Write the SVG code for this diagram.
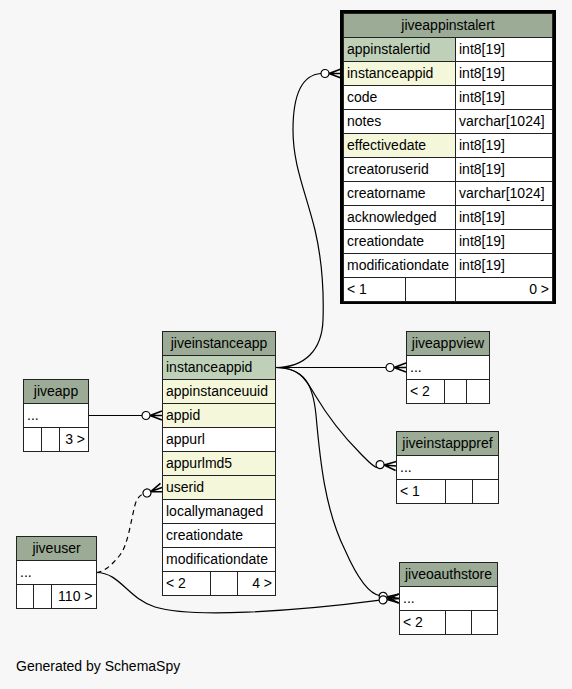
<svg xmlns="http://www.w3.org/2000/svg" xmlns:xlink="http://www.w3.org/1999/xlink" width="572" height="689" viewBox="0 0 572 689">
<style>
text{font-family:"Liberation Sans",Arial,Helvetica,sans-serif;font-size:14px;fill:#000}
.c{fill:#fff;stroke:#222;stroke-width:1}
.h{fill:#9bab96;stroke:#222;stroke-width:1}
.pk{fill:#bed1b8;stroke:#222;stroke-width:1}
.fk{fill:#f4f7da;stroke:#222;stroke-width:1}
.m{text-anchor:middle}
.r{text-anchor:end}
.e{fill:none;stroke:#000;stroke-width:1.2}
.d{stroke-dasharray:5,4}
</style>
<defs>
<g id="cf">
<path d="M-12,0 L0,-4.5 M-12,0 L0,0 M-12,0 L0,4.5" fill="none" stroke="#000" stroke-width="1.6"/>
<circle cx="-16" cy="0" r="4" fill="#fff" stroke="#000" stroke-width="1.2"/>
</g>
</defs>
<rect x="0" y="0" width="572" height="689" fill="#f7f7f7"/>

<g id="connectors">
<path class="e" d="M275.5,367.5 C305,367.5 322,350 323,320 C324,290 322,260 315,230 C305,190 293,165 293,130 C293,100 300,75 321,73.5"/>
<path class="e" d="M275.5,367.5 L386,367.5"/>
<path class="e" d="M275.5,367.5 C300,367.5 306,380 315,395 C330,420 345,438 360,453 C367,460 372,466 377,467.7"/>
<path class="e" d="M275.5,367.5 C305,367.5 313,385 316,415 C320,460 325,510 345,550 C356,575 368,594 380.2,595.7"/>
<path class="e" d="M88.5,415.5 L142,415.5"/>
<path class="e d" d="M96.5,572.5 C104,572 112,565 120,555 C128,545 131,520 135,505 C137,498 140,495 143.2,494.3"/>
<path class="e" d="M96.5,572.5 C120,572.5 127,598 155,607 C190,618 290,612 380.1,600.2"/>
<use xlink:href="#cf" href="#cf" transform="translate(341,73.5)"/>
<use xlink:href="#cf" href="#cf" transform="translate(406,367.5)"/>
<use xlink:href="#cf" href="#cf" transform="translate(396,466) rotate(5)"/>
<use xlink:href="#cf" href="#cf" transform="translate(399,598.5) rotate(8)"/>
<use xlink:href="#cf" href="#cf" transform="translate(399,598.5) rotate(-5)"/>
<use xlink:href="#cf" href="#cf" transform="translate(162,415.5)"/>
<use xlink:href="#cf" href="#cf" transform="translate(162,487.5) rotate(-20)"/>
</g>

<g id="jiveappinstalert">
<rect x="341.5" y="11.5" width="213" height="291" fill="#fff" stroke="#000" stroke-width="3"/>
<rect class="h" x="343.5" y="13.5" width="209" height="24"/>
<text class="m" x="448" y="30">jiveappinstalert</text>
<rect class="pk" x="343.5" y="37.5" width="112" height="24"/><rect class="c" x="455.5" y="37.5" width="97" height="24"/>
<text x="347" y="54">appinstalertid</text><text x="459" y="54">int8[19]</text>
<rect class="fk" x="343.5" y="61.5" width="112" height="24"/><rect class="c" x="455.5" y="61.5" width="97" height="24"/>
<text x="347" y="78">instanceappid</text><text x="459" y="78">int8[19]</text>
<rect class="c" x="343.5" y="85.5" width="112" height="24"/><rect class="c" x="455.5" y="85.5" width="97" height="24"/>
<text x="347" y="102">code</text><text x="459" y="102">int8[19]</text>
<rect class="c" x="343.5" y="109.5" width="112" height="24"/><rect class="c" x="455.5" y="109.5" width="97" height="24"/>
<text x="347" y="126">notes</text><text x="459" y="126">varchar[1024]</text>
<rect class="fk" x="343.5" y="133.5" width="112" height="24"/><rect class="c" x="455.5" y="133.5" width="97" height="24"/>
<text x="347" y="150">effectivedate</text><text x="459" y="150">int8[19]</text>
<rect class="c" x="343.5" y="157.5" width="112" height="24"/><rect class="c" x="455.5" y="157.5" width="97" height="24"/>
<text x="347" y="174">creatoruserid</text><text x="459" y="174">int8[19]</text>
<rect class="c" x="343.5" y="181.5" width="112" height="24"/><rect class="c" x="455.5" y="181.5" width="97" height="24"/>
<text x="347" y="198">creatorname</text><text x="459" y="198">varchar[1024]</text>
<rect class="c" x="343.5" y="205.5" width="112" height="24"/><rect class="c" x="455.5" y="205.5" width="97" height="24"/>
<text x="347" y="222">acknowledged</text><text x="459" y="222">int8[19]</text>
<rect class="c" x="343.5" y="229.5" width="112" height="24"/><rect class="c" x="455.5" y="229.5" width="97" height="24"/>
<text x="347" y="246">creationdate</text><text x="459" y="246">int8[19]</text>
<rect class="c" x="343.5" y="253.5" width="112" height="24"/><rect class="c" x="455.5" y="253.5" width="97" height="24"/>
<text x="347" y="270">modificationdate</text><text x="459" y="270">int8[19]</text>
<rect class="c" x="343.5" y="277.5" width="62" height="24"/><rect class="c" x="405.5" y="277.5" width="50" height="24"/><rect class="c" x="455.5" y="277.5" width="97" height="24"/>
<text x="347" y="294">&lt; 1</text><text class="r" x="549" y="294">0 &gt;</text>
</g>

<g id="jiveinstanceapp">
<rect class="h" x="162.5" y="331.5" width="113" height="24"/>
<text class="m" x="219" y="348">jiveinstanceapp</text>
<rect class="pk" x="162.5" y="355.5" width="113" height="24"/><text x="166" y="372">instanceappid</text>
<rect class="fk" x="162.5" y="379.5" width="113" height="24"/><text x="166" y="396">appinstanceuuid</text>
<rect class="fk" x="162.5" y="403.5" width="113" height="24"/><text x="166" y="420">appid</text>
<rect class="c" x="162.5" y="427.5" width="113" height="24"/><text x="166" y="444">appurl</text>
<rect class="fk" x="162.5" y="451.5" width="113" height="24"/><text x="166" y="468">appurlmd5</text>
<rect class="fk" x="162.5" y="475.5" width="113" height="24"/><text x="166" y="492">userid</text>
<rect class="c" x="162.5" y="499.5" width="113" height="24"/><text x="166" y="516">locallymanaged</text>
<rect class="c" x="162.5" y="523.5" width="113" height="24"/><text x="166" y="540">creationdate</text>
<rect class="c" x="162.5" y="547.5" width="113" height="24"/><text x="166" y="564">modificationdate</text>
<rect class="c" x="162.5" y="571.5" width="48" height="24"/><rect class="c" x="210.5" y="571.5" width="27" height="24"/><rect class="c" x="237.5" y="571.5" width="38" height="24"/>
<text x="166" y="588">&lt; 2</text><text class="r" x="272" y="588">4 &gt;</text>
</g>

<g id="jiveapp">
<rect class="h" x="23.5" y="379.5" width="65" height="24"/>
<text class="m" x="56" y="396">jiveapp</text>
<rect class="c" x="23.5" y="403.5" width="65" height="24"/><text x="27" y="420">...</text>
<rect class="c" x="23.5" y="427.5" width="18" height="24"/><rect class="c" x="41.5" y="427.5" width="18" height="24"/><rect class="c" x="59.5" y="427.5" width="29" height="24"/>
<text class="r" x="85" y="444">3 &gt;</text>
</g>

<g id="jiveuser">
<rect class="h" x="16.5" y="536.5" width="80" height="24"/>
<text class="m" x="56.5" y="553">jiveuser</text>
<rect class="c" x="16.5" y="560.5" width="80" height="24"/><text x="20" y="577">...</text>
<rect class="c" x="16.5" y="584.5" width="17" height="24"/><rect class="c" x="33.5" y="584.5" width="18" height="24"/><rect class="c" x="51.5" y="584.5" width="45" height="24"/>
<text class="r" x="92.5" y="601">110 &gt;</text>
</g>

<g id="jiveappview">
<rect class="h" x="406.5" y="331.5" width="83" height="24"/>
<text class="m" x="448" y="348">jiveappview</text>
<rect class="c" x="406.5" y="355.5" width="83" height="24"/><text x="410" y="372">...</text>
<rect class="c" x="406.5" y="379.5" width="38" height="24"/><rect class="c" x="444.5" y="379.5" width="22" height="24"/><rect class="c" x="466.5" y="379.5" width="23" height="24"/>
<text x="410" y="396">&lt; 2</text>
</g>

<g id="jiveinstapppref">
<rect class="h" x="396.5" y="431.5" width="102" height="24"/>
<text class="m" x="447.5" y="448">jiveinstapppref</text>
<rect class="c" x="396.5" y="455.5" width="102" height="24"/><text x="400" y="472">...</text>
<rect class="c" x="396.5" y="479.5" width="49" height="24"/><rect class="c" x="445.5" y="479.5" width="27" height="24"/><rect class="c" x="472.5" y="479.5" width="26" height="24"/>
<text x="400" y="496">&lt; 1</text>
</g>

<g id="jiveoauthstore">
<rect class="h" x="399.5" y="562.5" width="98" height="24"/>
<text class="m" x="448.5" y="579">jiveoauthstore</text>
<rect class="c" x="399.5" y="586.5" width="98" height="24"/><text x="403" y="603">...</text>
<rect class="c" x="399.5" y="610.5" width="46" height="24"/><rect class="c" x="445.5" y="610.5" width="26" height="24"/><rect class="c" x="471.5" y="610.5" width="26" height="24"/>
<text x="403" y="627">&lt; 2</text>
</g>

<text x="16" y="671">Generated by SchemaSpy</text>
</svg>
